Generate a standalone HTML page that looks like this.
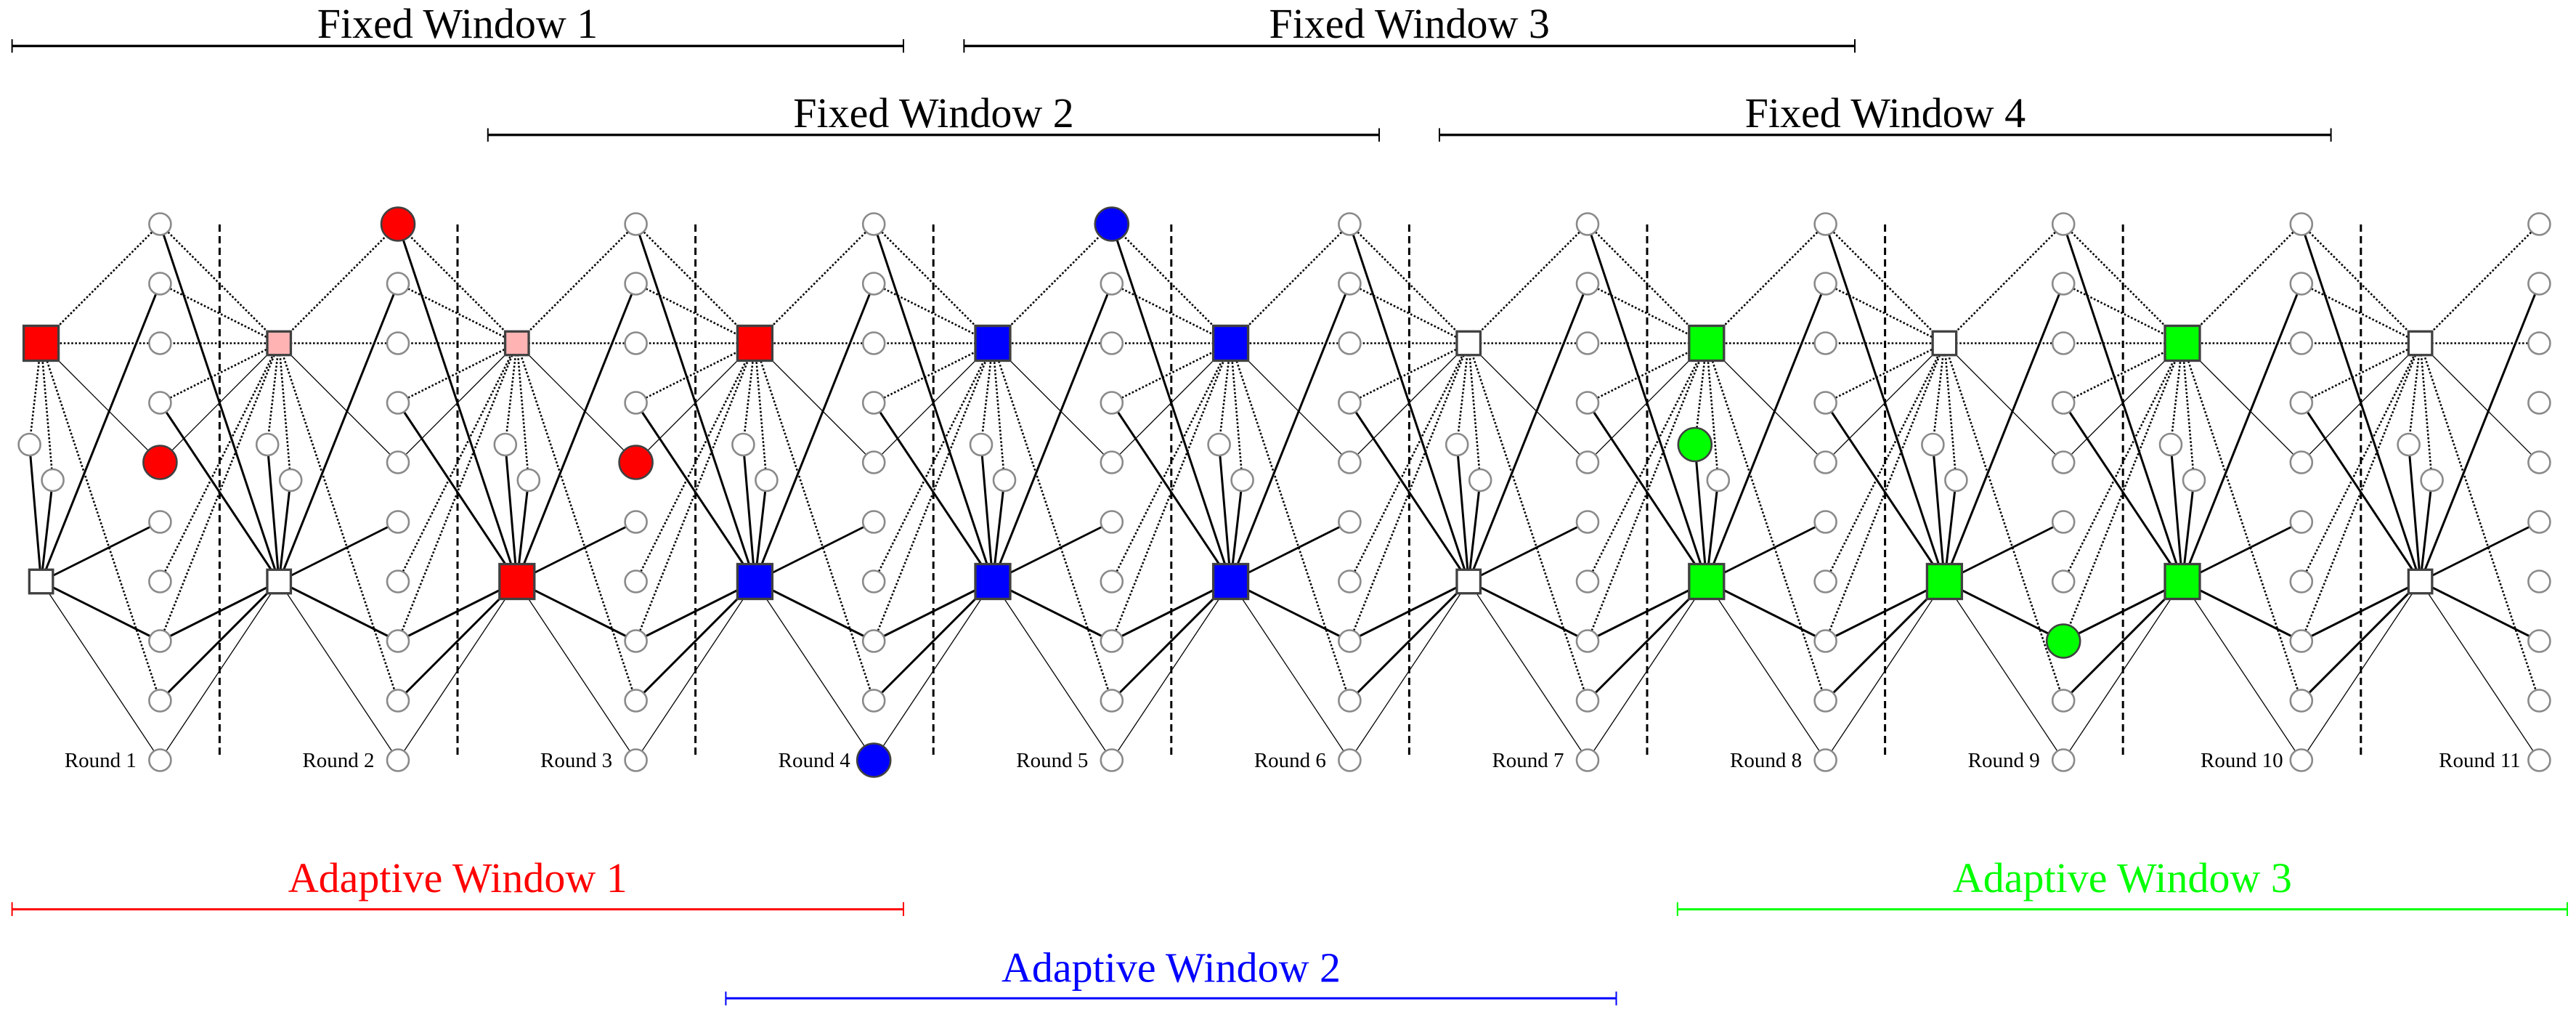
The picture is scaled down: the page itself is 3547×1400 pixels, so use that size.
<!DOCTYPE html>
<html>
<head>
<meta charset="utf-8">
<style>
  html, body { margin:0; padding:0; background:#fff; }
  svg { display:block; }
  .d { stroke:#000; stroke-width:2.6; stroke-dasharray:2.6 2.6; fill:none; }
  .t { stroke:#000; stroke-width:1.3; fill:none; }
  .k { stroke:#000; stroke-width:3; fill:none; }
  .m { stroke:#000; stroke-width:2.8; fill:none; }
  .dash { stroke:#000; stroke-width:3; stroke-dasharray:10 6; fill:none; }
  .c { fill:#fff; stroke:#8a8a8a; stroke-width:2.6; }
  .bc { stroke:#404040; stroke-width:2.6; }
  .sq { stroke:#404040; stroke-width:3.3; }
  .lbl { font-family:"Liberation Serif", serif; font-size:29px; fill:#000; }
  .win { font-family:"Liberation Serif", serif; font-size:58px; }
</style>
</head>
<body>
<svg width="3547" height="1400" viewBox="0 0 3547 1400" xmlns="http://www.w3.org/2000/svg">
  <defs>
    <g id="E">
      <line class="d" x1="0" y1="472.5" x2="163.8" y2="308.5"/>
      <line class="d" x1="0" y1="472.5" x2="-16" y2="612"/>
      <line class="d" x1="0" y1="472.5" x2="16" y2="661"/>
      <line class="d" x1="0" y1="472.5" x2="163.8" y2="964.5"/>
      <line class="t" x1="0" y1="472.5" x2="163.8" y2="636.5"/>
      <line class="k" x1="0" y1="800.5" x2="-16" y2="612"/>
      <line class="k" x1="0" y1="800.5" x2="16" y2="661"/>
      <line class="k" x1="0" y1="800.5" x2="163.8" y2="390.5"/>
      <line class="m" x1="0" y1="800.5" x2="163.8" y2="718.5"/>
      <line class="k" x1="0" y1="800.5" x2="163.8" y2="882.5"/>
      <line class="t" x1="0" y1="800.5" x2="163.8" y2="1046.5"/>
    </g>
    <g id="F">
      <line class="d" x1="163.8" y1="308.5" x2="327.6" y2="472.5"/>
      <line class="d" x1="163.8" y1="390.5" x2="327.6" y2="472.5"/>
      <line class="d" x1="163.8" y1="554.5" x2="327.6" y2="472.5"/>
      <line class="d" x1="163.8" y1="800.5" x2="327.6" y2="472.5"/>
      <line class="d" x1="163.8" y1="882.5" x2="327.6" y2="472.5"/>
      <line class="t" x1="163.8" y1="636.5" x2="327.6" y2="472.5"/>
      <line class="k" x1="163.8" y1="308.5" x2="327.6" y2="800.5"/>
      <line class="k" x1="163.8" y1="554.5" x2="327.6" y2="800.5"/>
      <line class="k" x1="163.8" y1="882.5" x2="327.6" y2="800.5"/>
      <line class="k" x1="163.8" y1="964.5" x2="327.6" y2="800.5"/>
      <line class="t" x1="163.8" y1="1046.5" x2="327.6" y2="800.5"/>
    </g>
    <g id="col">
      <circle class="c" cx="0" cy="308.5" r="15"/>
      <circle class="c" cx="0" cy="390.5" r="15"/>
      <circle class="c" cx="0" cy="472.5" r="15"/>
      <circle class="c" cx="0" cy="554.5" r="15"/>
      <circle class="c" cx="0" cy="636.5" r="15"/>
      <circle class="c" cx="0" cy="718.5" r="15"/>
      <circle class="c" cx="0" cy="800.5" r="15"/>
      <circle class="c" cx="0" cy="882.5" r="15"/>
      <circle class="c" cx="0" cy="964.5" r="15"/>
      <circle class="c" cx="0" cy="1046.5" r="15"/>
    </g>
    <g id="sm">
      <circle class="c" cx="-16" cy="612" r="15"/>
      <circle class="c" cx="16" cy="661" r="15"/>
    </g>
  </defs>

  <!-- Fixed windows -->
  <g stroke="#000">
    <line x1="16.6" y1="63.3" x2="1244" y2="63.3" stroke-width="3.3"/>
    <line x1="16.6" y1="54" x2="16.6" y2="72.5" stroke-width="2"/>
    <line x1="1244" y1="54" x2="1244" y2="72.5" stroke-width="2"/>

    <line x1="1327.4" y1="63.3" x2="2554" y2="63.3" stroke-width="3.3"/>
    <line x1="1327.4" y1="54" x2="1327.4" y2="72.5" stroke-width="2"/>
    <line x1="2554" y1="54" x2="2554" y2="72.5" stroke-width="2"/>

    <line x1="671.8" y1="185.7" x2="1899" y2="185.7" stroke-width="3.3"/>
    <line x1="671.8" y1="176.5" x2="671.8" y2="195" stroke-width="2"/>
    <line x1="1899" y1="176.5" x2="1899" y2="195" stroke-width="2"/>

    <line x1="1982" y1="185.7" x2="3209.6" y2="185.7" stroke-width="3.3"/>
    <line x1="1982" y1="176.5" x2="1982" y2="195" stroke-width="2"/>
    <line x1="3209.6" y1="176.5" x2="3209.6" y2="195" stroke-width="2"/>
  </g>
  <text class="win" x="630" y="52" text-anchor="middle" fill="#000">Fixed Window 1</text>
  <text class="win" x="1940.7" y="52" text-anchor="middle" fill="#000">Fixed Window 3</text>
  <text class="win" x="1285.5" y="175" text-anchor="middle" fill="#000">Fixed Window 2</text>
  <text class="win" x="2595.9" y="175" text-anchor="middle" fill="#000">Fixed Window 4</text>

  <!-- Adaptive windows -->
  <g stroke="#ff0000">
    <line x1="16.6" y1="1251.7" x2="1244" y2="1251.7" stroke-width="3"/>
    <line x1="16.6" y1="1242" x2="16.6" y2="1261" stroke-width="2"/>
    <line x1="1244" y1="1242" x2="1244" y2="1261" stroke-width="2"/>
  </g>
  <g stroke="#0000ff">
    <line x1="999.4" y1="1374.3" x2="2225.5" y2="1374.3" stroke-width="3"/>
    <line x1="999.4" y1="1365" x2="999.4" y2="1384" stroke-width="2"/>
    <line x1="2225.5" y1="1365" x2="2225.5" y2="1384" stroke-width="2"/>
  </g>
  <g stroke="#00ff00">
    <line x1="2309.8" y1="1251.7" x2="3535" y2="1251.7" stroke-width="3"/>
    <line x1="2309.8" y1="1242" x2="2309.8" y2="1261" stroke-width="2"/>
    <line x1="3535" y1="1242" x2="3535" y2="1261" stroke-width="2"/>
  </g>
  <text class="win" x="630.3" y="1228" text-anchor="middle" fill="#ff0000">Adaptive Window 1</text>
  <text class="win" x="1612.5" y="1351.7" text-anchor="middle" fill="#0000ff">Adaptive Window 2</text>
  <text class="win" x="2922.4" y="1228" text-anchor="middle" fill="#00ff00">Adaptive Window 3</text>

  <!-- Dashed separators -->
  <g>
    <line class="dash" x1="302.4" y1="309" x2="302.4" y2="1045"/>
    <line class="dash" x1="630" y1="309" x2="630" y2="1045"/>
    <line class="dash" x1="957.6" y1="309" x2="957.6" y2="1045"/>
    <line class="dash" x1="1285.2" y1="309" x2="1285.2" y2="1045"/>
    <line class="dash" x1="1612.8" y1="309" x2="1612.8" y2="1045"/>
    <line class="dash" x1="1940.4" y1="309" x2="1940.4" y2="1045"/>
    <line class="dash" x1="2268" y1="309" x2="2268" y2="1045"/>
    <line class="dash" x1="2595.6" y1="309" x2="2595.6" y2="1045"/>
    <line class="dash" x1="2923.2" y1="309" x2="2923.2" y2="1045"/>
    <line class="dash" x1="3250.8" y1="309" x2="3250.8" y2="1045"/>
  </g>

  <!-- Horizontal dotted row -->
  <line class="d" x1="56.6" y1="472.5" x2="3496.4" y2="472.5"/>

  <!-- Edges -->
  <use href="#E" x="56.6"/>
  <use href="#E" x="384.2"/>
  <use href="#E" x="711.8"/>
  <use href="#E" x="1039.4"/>
  <use href="#E" x="1367"/>
  <use href="#E" x="1694.6"/>
  <use href="#E" x="2022.2"/>
  <use href="#E" x="2349.8"/>
  <use href="#E" x="2677.4"/>
  <use href="#E" x="3005"/>
  <use href="#E" x="3332.6"/>

  <use href="#F" x="56.6"/>
  <use href="#F" x="384.2"/>
  <use href="#F" x="711.8"/>
  <use href="#F" x="1039.4"/>
  <use href="#F" x="1367"/>
  <use href="#F" x="1694.6"/>
  <use href="#F" x="2022.2"/>
  <use href="#F" x="2349.8"/>
  <use href="#F" x="2677.4"/>
  <use href="#F" x="3005"/>

  <!-- Circle columns -->
  <use href="#col" x="220.4"/>
  <use href="#col" x="548"/>
  <use href="#col" x="875.6"/>
  <use href="#col" x="1203.2"/>
  <use href="#col" x="1530.8"/>
  <use href="#col" x="1858.4"/>
  <use href="#col" x="2186"/>
  <use href="#col" x="2513.6"/>
  <use href="#col" x="2841.2"/>
  <use href="#col" x="3168.8"/>
  <use href="#col" x="3496.4"/>

  <!-- Small circle pairs -->
  <use href="#sm" x="56.6"/>
  <use href="#sm" x="384.2"/>
  <use href="#sm" x="711.8"/>
  <use href="#sm" x="1039.4"/>
  <use href="#sm" x="1367"/>
  <use href="#sm" x="1694.6"/>
  <use href="#sm" x="2022.2"/>
  <use href="#sm" x="2349.8"/>
  <use href="#sm" x="2677.4"/>
  <use href="#sm" x="3005"/>
  <use href="#sm" x="3332.6"/>

  <!-- Colored big circles -->
  <circle class="bc" cx="220.4" cy="636.5" r="23" fill="#ff0000"/>
  <circle class="bc" cx="548" cy="308.5" r="23" fill="#ff0000"/>
  <circle class="bc" cx="875.6" cy="636.5" r="23" fill="#ff0000"/>
  <circle class="bc" cx="1203.2" cy="1046.5" r="23" fill="#0000ff"/>
  <circle class="bc" cx="1530.8" cy="308.5" r="23" fill="#0000ff"/>
  <circle class="bc" cx="2333.8" cy="612" r="23" fill="#00ff00"/>
  <circle class="bc" cx="2841.2" cy="882.5" r="23" fill="#00ff00"/>

  <!-- Top squares -->
  <rect class="sq" x="32.6" y="448.5" width="48" height="48" fill="#ff0000"/>
  <rect class="sq" x="367.95" y="456.25" width="32.5" height="32.5" fill="#ffb3b3"/>
  <rect class="sq" x="695.55" y="456.25" width="32.5" height="32.5" fill="#ffb3b3"/>
  <rect class="sq" x="1015.4" y="448.5" width="48" height="48" fill="#ff0000"/>
  <rect class="sq" x="1343" y="448.5" width="48" height="48" fill="#0000ff"/>
  <rect class="sq" x="1670.6" y="448.5" width="48" height="48" fill="#0000ff"/>
  <rect class="sq" x="2005.95" y="456.25" width="32.5" height="32.5" fill="#ffffff"/>
  <rect class="sq" x="2325.8" y="448.5" width="48" height="48" fill="#00ff00"/>
  <rect class="sq" x="2661.15" y="456.25" width="32.5" height="32.5" fill="#ffffff"/>
  <rect class="sq" x="2981" y="448.5" width="48" height="48" fill="#00ff00"/>
  <rect class="sq" x="3316.35" y="456.25" width="32.5" height="32.5" fill="#ffffff"/>

  <!-- Bottom squares -->
  <rect class="sq" x="40.35" y="784.25" width="32.5" height="32.5" fill="#ffffff"/>
  <rect class="sq" x="367.95" y="784.25" width="32.5" height="32.5" fill="#ffffff"/>
  <rect class="sq" x="687.8" y="776.5" width="48" height="48" fill="#ff0000"/>
  <rect class="sq" x="1015.4" y="776.5" width="48" height="48" fill="#0000ff"/>
  <rect class="sq" x="1343" y="776.5" width="48" height="48" fill="#0000ff"/>
  <rect class="sq" x="1670.6" y="776.5" width="48" height="48" fill="#0000ff"/>
  <rect class="sq" x="2005.95" y="784.25" width="32.5" height="32.5" fill="#ffffff"/>
  <rect class="sq" x="2325.8" y="776.5" width="48" height="48" fill="#00ff00"/>
  <rect class="sq" x="2653.4" y="776.5" width="48" height="48" fill="#00ff00"/>
  <rect class="sq" x="2981" y="776.5" width="48" height="48" fill="#00ff00"/>
  <rect class="sq" x="3316.35" y="784.25" width="32.5" height="32.5" fill="#ffffff"/>

  <!-- Round labels -->
  <text class="lbl" x="138.4" y="1056" text-anchor="middle">Round 1</text>
  <text class="lbl" x="466" y="1056" text-anchor="middle">Round 2</text>
  <text class="lbl" x="793.6" y="1056" text-anchor="middle">Round 3</text>
  <text class="lbl" x="1121.2" y="1056" text-anchor="middle">Round 4</text>
  <text class="lbl" x="1448.8" y="1056" text-anchor="middle">Round 5</text>
  <text class="lbl" x="1776.4" y="1056" text-anchor="middle">Round 6</text>
  <text class="lbl" x="2104" y="1056" text-anchor="middle">Round 7</text>
  <text class="lbl" x="2431.6" y="1056" text-anchor="middle">Round 8</text>
  <text class="lbl" x="2759.2" y="1056" text-anchor="middle">Round 9</text>
  <text class="lbl" x="3086.8" y="1056" text-anchor="middle">Round 10</text>
  <text class="lbl" x="3414.4" y="1056" text-anchor="middle">Round 11</text>
</svg>
</body>
</html>
